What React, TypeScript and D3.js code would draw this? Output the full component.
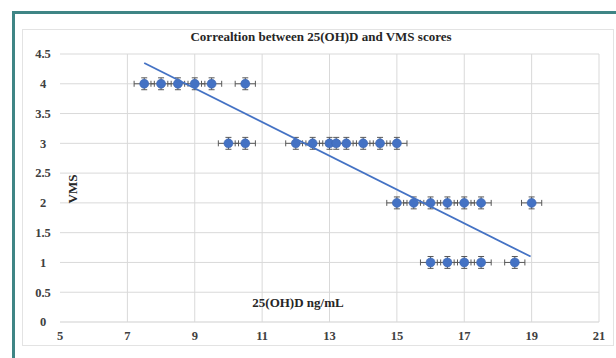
import React from 'react'
import * as d3 from 'd3'

// 25(OH)D level (ng/mL) and VMS score for each subject
const vitD = [
  7.5, 8, 8.5, 9, 9.5, 10.5,
  10, 10.5, 12, 12.5, 13, 13.2, 13.5, 14, 14.5, 15,
  15, 15.5, 16, 16.5, 17, 17.5, 19,
  16, 16.5, 17, 17.5, 18.5,
]
const vms = [
  4, 4, 4, 4, 4, 4,
  3, 3, 3, 3, 3, 3, 3, 3, 3, 3,
  2, 2, 2, 2, 2, 2, 2,
  1, 1, 1, 1, 1,
]
const xErr = 0.3
const yErr = 0.1

// linear trendline end points as drawn
const trendX = [7.5, 18.97]
const trendY = [4.35, 1.1]

const xTicks = [5, 7, 9, 11, 13, 15, 17, 19, 21]
const yTicks = [0, 0.5, 1, 1.5, 2, 2.5, 3, 3.5, 4, 4.5]

const title = 'Correaltion between 25(OH)D and VMS scores'
const xTitle = '25(OH)D ng/mL'
const yTitle = 'VMS'

const W = 616
const H = 358
const blue = '#4472C4'
const grid = '#d9d9d9'
const errCol = '#595959'
const font = '"Liberation Serif", "Times New Roman", serif'

export default function App() {
  const x = d3.scaleLinear().domain([5, 21]).range([60, 599])
  const y = d3.scaleLinear().domain([0, 4.5]).range([322, 54])

  const trend = d3
    .line<number>()
    .x((d) => x(d))
    .y((d, i) => y(trendY[i]))(trendX)

  return (
    <svg width={W} height={H} style={{position: 'absolute', left: 0, top: 0, background: '#fff'}}>
      {/* teal frame */}
      <rect x={12} y={11} width={3} height={H - 11} fill="#3f8585" />
      <rect x={12} y={11} width={W - 12} height={3} fill="#3f8585" />
      {/* chart box */}
      <rect x={22.5} y={29.5} width={591} height={316} fill="#fff" stroke="#e3e3e3" />

      {/* gridlines */}
      {yTicks.map((t) => (
        <line key={'h' + t} x1={x(5)} x2={x(21)} y1={y(t)} y2={y(t)} stroke={t === 0 ? '#cfcfcf' : grid} strokeWidth={1} />
      ))}
      {xTicks.slice(1).map((t) => (
        <line key={'v' + t} x1={x(t)} x2={x(t)} y1={y(4.5)} y2={y(0)} stroke={grid} strokeWidth={1} />
      ))}

      {/* tick labels */}
      {yTicks.map((t) => (
        <text key={'yl' + t} x={43} y={y(t)} dy="0.35em" textAnchor="middle" fontFamily={font} fontWeight="bold" fontSize={12.5} fill="#404040">
          {t}
        </text>
      ))}
      {xTicks.map((t) => (
        <text key={'xl' + t} x={x(t)} y={340} textAnchor="middle" fontFamily={font} fontWeight="bold" fontSize={12.5} fill="#404040">
          {t}
        </text>
      ))}

      {/* titles */}
      <text x={321} y={41} textAnchor="middle" fontFamily={font} fontWeight="bold" fontSize={13} fill="#262626">
        {title}
      </text>
      <text x={298} y={307} textAnchor="middle" fontFamily={font} fontWeight="bold" fontSize={13} fill="#262626">
        {xTitle}
      </text>
      <text transform="translate(77,189) rotate(-90)" textAnchor="middle" fontFamily={font} fontWeight="bold" fontSize={13} fill="#262626">
        {yTitle}
      </text>

      {/* error bars */}
      {vitD.map((v, i) => {
        const cx = x(v)
        const cy = y(vms[i])
        const x0 = x(v - xErr)
        const x1 = x(v + xErr)
        const y0 = y(vms[i] + yErr)
        const y1 = y(vms[i] - yErr)
        return (
          <g key={'e' + i} stroke={errCol} strokeWidth={1}>
            <line x1={x0} x2={x1} y1={cy} y2={cy} />
            <line x1={x0} x2={x0} y1={cy - 3} y2={cy + 3} />
            <line x1={x1} x2={x1} y1={cy - 3} y2={cy + 3} />
            <line x1={cx} x2={cx} y1={y0} y2={y1} />
            <line x1={cx - 3} x2={cx + 3} y1={y0} y2={y0} />
            <line x1={cx - 3} x2={cx + 3} y1={y1} y2={y1} />
          </g>
        )
      })}

      {/* points */}
      {vitD.map((v, i) => (
        <circle key={'p' + i} cx={x(v)} cy={y(vms[i])} r={4.5} fill={blue} stroke="#3a64b0" strokeWidth={0.6} />
      ))}

      {/* trendline */}
      <path d={trend || ''} fill="none" stroke={blue} strokeWidth={1.8} />
    </svg>
  )
}
